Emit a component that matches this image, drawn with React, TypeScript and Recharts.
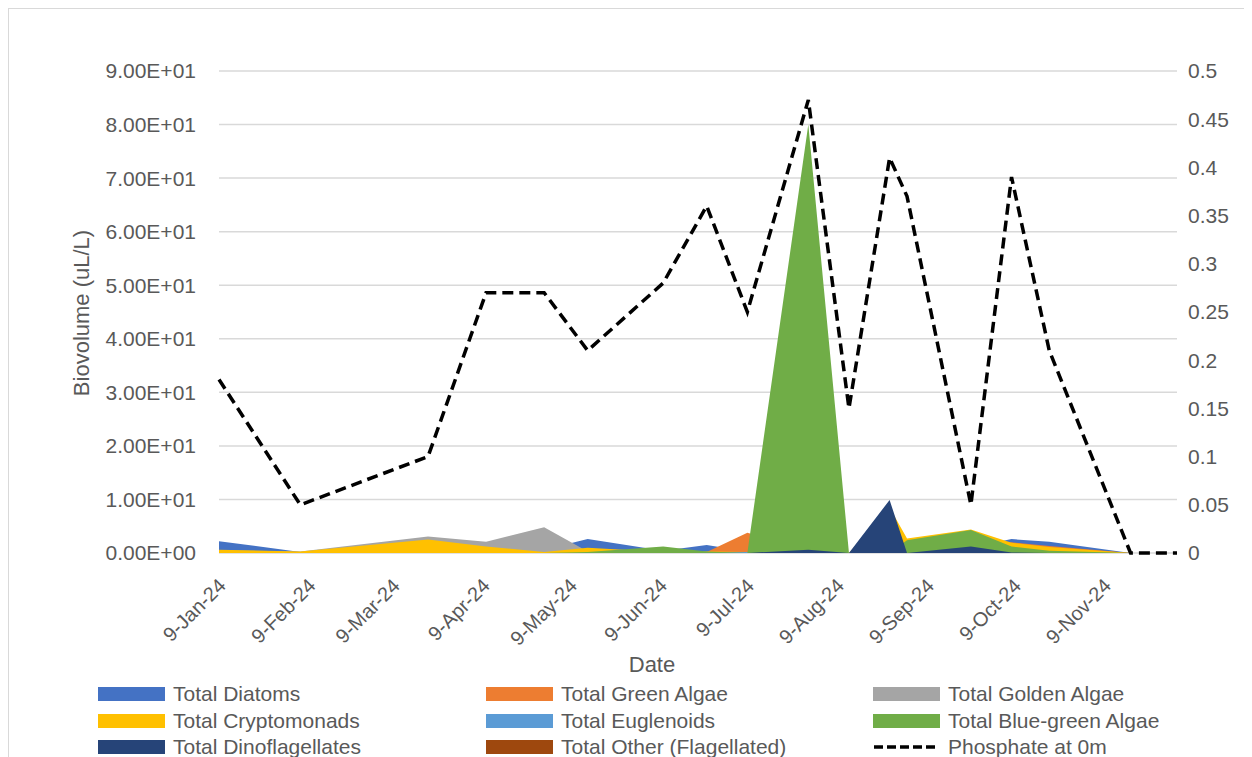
import { Area, CartesianGrid, ComposedChart, Line, XAxis, YAxis } from 'recharts';

const dates = [
  '2024-01-09', '2024-02-06', '2024-03-21', '2024-04-10', '2024-04-30', '2024-05-15',
  '2024-06-10', '2024-06-25', '2024-07-09', '2024-07-30', '2024-08-13', '2024-08-27',
  '2024-09-02', '2024-09-24', '2024-10-08', '2024-10-21', '2024-11-18', '2024-12-04',
];

const diatoms = [2.2, 0.2, 1.0, 0.8, 0.6, 2.6, 0.4, 1.5, 0.3, 0.3, 0, 0.3, 0.5, 1.0, 2.6, 2.1, 0, 0];
const greenAlgae = [0, 0, 0, 0, 0, 0, 0, 0.2, 3.8, 0.5, 0, 0, 0.3, 0.5, 2.0, 1.3, 0, 0];
const goldenAlgae = [0.5, 0.3, 3.1, 2.1, 4.8, 0.3, 0, 0, 0, 0, 0, 0, 0, 0, 0, 0, 0, 0];
const cryptomonads = [0.6, 0.3, 2.5, 1.2, 0.2, 1.0, 0.2, 0.3, 0.2, 0.5, 0, 8.5, 2.7, 4.4, 1.9, 1.1, 0, 0];
const euglenoids = [0, 0, 0, 0, 0, 0, 0, 0.1, 0.2, 0, 0, 0, 0, 0, 0, 0, 0, 0];
const blueGreen = [0, 0, 0, 0, 0, 0.2, 1.2, 0.3, 0, 80, 0, 0, 2.4, 4.3, 1.2, 0.4, 0, 0];
const dinoflagellates = [0, 0, 0, 0, 0, 0, 0, 0, 0, 0.6, 0, 9.9, 0, 1.2, 0.1, 0, 0, 0];
const otherFlagellated = [0, 0, 0, 0, 0, 0, 0, 0, 0, 0, 0, 0, 0, 0, 0, 0, 0, 0];
const phosphate = [0.18, 0.05, 0.1, 0.27, 0.27, 0.21, 0.28, 0.36, 0.25, 0.47, 0.15, 0.41, 0.37, 0.05, 0.39, 0.21, 0, 0];

const seriesKeys = ['diatoms', 'green', 'golden', 'crypto', 'eugl', 'bluegreen', 'dino', 'other'];
const seriesNames = [
  'Total Diatoms', 'Total Green Algae', 'Total Golden Algae', 'Total Cryptomonads',
  'Total Euglenoids', 'Total Blue-green Algae', 'Total Dinoflagellates', 'Total Other (Flagellated)',
];
const seriesColors = ['#4472C4', '#ED7D31', '#A5A5A5', '#FFC000', '#5B9BD5', '#70AD47', '#264478', '#9E480E'];
const seriesValues = [diatoms, greenAlgae, goldenAlgae, cryptomonads, euglenoids, blueGreen, dinoflagellates, otherFlagellated];

const tickDates = [
  '2024-01-09', '2024-02-09', '2024-03-09', '2024-04-09', '2024-05-09', '2024-06-09',
  '2024-07-09', '2024-08-09', '2024-09-09', '2024-10-09', '2024-11-09',
];
const monthNames = ['Jan', 'Feb', 'Mar', 'Apr', 'May', 'Jun', 'Jul', 'Aug', 'Sep', 'Oct', 'Nov', 'Dec'];
const leftTicks = [0, 10, 20, 30, 40, 50, 60, 70, 80, 90];
const rightTicks = [0, 0.05, 0.1, 0.15, 0.2, 0.25, 0.3, 0.35, 0.4, 0.45, 0.5];

const FONT = '"Liberation Sans", Arial, sans-serif';
const TEXT = '#595959';

function toUtc(s: string) {
  const [y, m, d] = s.split('-').map(Number);
  return Date.UTC(y, m - 1, d);
}
const base = toUtc(dates[0]);
const dayOf = (s: string) => Math.round((toUtc(s) - base) / 86400000);

function dateLabel(s: string) {
  const [y, m, d] = s.split('-').map(Number);
  return `${d}-${monthNames[m - 1]}-${String(y).slice(2)}`;
}

// Excel-style scientific: 9.00E+01
function sci(v: number) {
  if (v === 0) return '0.00E+00';
  const [mant, exp] = v.toExponential(2).split('e');
  const e = Number(exp);
  return `${mant}E${e < 0 ? '-' : '+'}${String(Math.abs(e)).padStart(2, '0')}`;
}

const data = dates.map((d, i) => {
  const row: Record<string, number> = { t: dayOf(d), phosphate: phosphate[i] };
  seriesKeys.forEach((k, j) => {
    row[k] = seriesValues[j][i];
  });
  return row;
});

const tickDays = tickDates.map(dayOf);
const tickLabelByDay: Record<number, string> = {};
tickDates.forEach((d) => {
  tickLabelByDay[dayOf(d)] = dateLabel(d);
});

function XTick(props: any) {
  const { x, y, payload } = props;
  const ax = x + 8;
  const ay = y + 34;
  return (
    <text
      x={ax}
      y={ay}
      transform={`rotate(-45, ${ax}, ${ay})`}
      textAnchor="end"
      fill={TEXT}
      fontSize={20}
      fontFamily={FONT}
    >
      {tickLabelByDay[payload.value]}
    </text>
  );
}

function Legend() {
  const items = seriesNames.map((n, i) => ({ name: n, color: seriesColors[i], line: false }));
  items.push({ name: 'Phosphate at 0m', color: '#000', line: true });
  const cols = [90, 478, 865];
  const rows = [686, 713, 739];
  return (
    <div style={{ position: 'absolute', left: 0, top: 0, width: 1244, height: 749, overflow: 'hidden', pointerEvents: 'none' }}>
      {items.map((it, i) => {
        const c = i % 3;
        const r = Math.floor(i / 3);
        return (
          <div
            key={it.name}
            style={{
              position: 'absolute',
              left: cols[c],
              top: rows[r] - 13,
              height: 26,
              display: 'flex',
              alignItems: 'center',
              fontFamily: FONT,
              fontSize: 21,
              color: TEXT,
              whiteSpace: 'nowrap',
            }}
          >
            {it.line ? (
              <svg width={67} height={14} style={{ marginRight: 8 }}>
                <line x1={1} y1={7} x2={66} y2={7} stroke="#000" strokeWidth={3.5} strokeDasharray="9 4" />
              </svg>
            ) : (
              <span style={{ display: 'inline-block', width: 67, height: 14, background: it.color, marginRight: 8 }} />
            )}
            {it.name}
          </div>
        );
      })}
    </div>
  );
}

export default function App() {
  return (
    <div style={{ position: 'relative', width: 1244, height: 749, fontFamily: FONT }}>
      <ComposedChart
        width={1244}
        height={749}
        data={data}
        margin={{ top: 63, right: 0, left: 0, bottom: 0 }}
        style={{ fontFamily: FONT }}
      >
        <CartesianGrid vertical={false} stroke="#d9d9d9" strokeWidth={1.5} yAxisId="left" />
        <XAxis
          dataKey="t"
          type="number"
          domain={[0, 330]}
          ticks={tickDays}
          interval={0}
          height={204}
          tickLine={false}
          tickSize={0}
          tickMargin={0}
          axisLine={false}
          tick={<XTick />}
          label={{
            content: () => (
              <text x={644} y={664} textAnchor="middle" fill={TEXT} fontSize={22} fontFamily={FONT}>
                Date
              </text>
            ),
          }}
        />
        <YAxis
          yAxisId="left"
          orientation="left"
          width={211}
          domain={[0, 90]}
          ticks={leftTicks}
          interval={0}
          tickFormatter={sci}
          axisLine={false}
          tickLine={false}
          tickSize={0}
          tickMargin={23}
          tick={{ fill: TEXT, fontSize: 21, fontFamily: FONT }}
          label={{
            content: () => (
              <text
                x={81}
                y={305}
                transform="rotate(-90, 81, 305)"
                textAnchor="middle"
                fill={TEXT}
                fontSize={22}
                fontFamily={FONT}
              >
                Biovolume (uL/L)
              </text>
            ),
          }}
        />
        <YAxis
          yAxisId="right"
          orientation="right"
          width={75}
          domain={[0, 0.5]}
          ticks={rightTicks}
          interval={0}
          axisLine={false}
          tickLine={false}
          tickSize={0}
          tickMargin={11}
          tick={{ fill: TEXT, fontSize: 21, fontFamily: FONT, textAnchor: 'start' }}
        />
        {seriesKeys.map((k, i) => (
          <Area
            key={k}
            yAxisId="left"
            type="linear"
            dataKey={k}
            name={seriesNames[i]}
            fill={seriesColors[i]}
            fillOpacity={1}
            stroke="none"
            isAnimationActive={false}
            dot={false}
            activeDot={false}
          />
        ))}
        <Line
          yAxisId="right"
          type="linear"
          dataKey="phosphate"
          name="Phosphate at 0m"
          stroke="#000"
          strokeWidth={3.5}
          strokeDasharray="11 6"
          dot={false}
          activeDot={false}
          isAnimationActive={false}
        />
      </ComposedChart>
      <Legend />
      <div
        style={{
          position: 'absolute',
          left: 0,
          top: 0,
          width: 1244,
          height: 749,
          borderLeft: '1px solid #d9d9d9',
          borderTop: '1px solid #d9d9d9',
          boxSizing: 'border-box',
          pointerEvents: 'none',
        }}
      />
    </div>
  );
}
